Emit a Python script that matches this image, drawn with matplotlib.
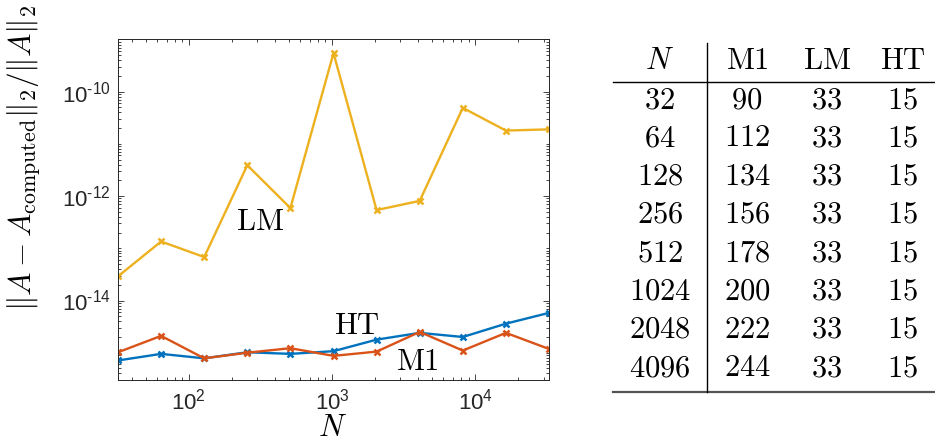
import matplotlib
matplotlib.use("Agg")
import matplotlib.pyplot as plt
import numpy as np
from matplotlib.ticker import LogLocator, FixedLocator, FuncFormatter, NullFormatter

# ---- data ----
N = [32, 64, 128, 256, 512, 1024, 2048, 4096, 8192, 16384, 32768]
err_HT = [7.1e-16, 9.5e-16, 7.8e-16, 1.02e-15, 9.5e-16, 1.07e-15,
          1.78e-15, 2.4e-15, 2.0e-15, 3.6e-15, 5.8e-15]
err_M1 = [1.02e-15, 2.1e-15, 7.8e-16, 1.0e-15, 1.22e-15, 8.7e-16,
          1.05e-15, 2.5e-15, 1.1e-15, 2.4e-15, 1.18e-15]
err_LM = [2.9e-14, 1.35e-13, 6.8e-14, 3.9e-12, 5.9e-13, 5.5e-10,
          5.4e-13, 8.1e-13, 4.9e-11, 1.8e-11, 1.9e-11]

x_ticks = [1e2, 1e3, 1e4]
y_ticks = [1e-14, 1e-12, 1e-10]

table_header = ["N", "M1", "LM", "HT"]
table_N = [32, 64, 128, 256, 512, 1024, 2048, 4096]
table_M1 = [90, 112, 134, 156, 178, 200, 222, 244]
table_LM = [33, 33, 33, 33, 33, 33, 33, 33]
table_HT = [15, 15, 15, 15, 15, 15, 15, 15]

BLUE, ORANGE, YELLOW = "#0072BD", "#D95319", "#EDB120"
AXC = "#262626"

plt.rcParams["mathtext.fontset"] = "custom"
plt.rcParams["mathtext.rm"] = "Liberation Sans"
plt.rcParams["mathtext.it"] = "Liberation Sans:italic"
plt.rcParams["font.family"] = "Liberation Sans"

W, H = 935, 444
fig = plt.figure(figsize=(W / 100, H / 100), dpi=100)
ax = fig.add_axes([118 / W, 1 - 380 / H, (549 - 118) / W, (380 - 39.5) / H])

style = dict(lw=1.7, marker="x", ms=4.5, mew=1.8)
ax.loglog(N, err_HT, color=BLUE, **style)
ax.loglog(N, err_M1, color=ORANGE, **style)
ax.loglog(N, err_LM, color=YELLOW, **style)

ax.set_xlim(32, 32768)
ax.set_ylim(3e-16, 1e-9)

ax.xaxis.set_major_locator(FixedLocator(x_ticks))
ax.xaxis.set_minor_locator(LogLocator(base=10, subs=np.arange(1, 10), numticks=100))
ax.yaxis.set_major_locator(FixedLocator(y_ticks))
ax.yaxis.set_minor_locator(LogLocator(base=10, subs=np.arange(1, 10), numticks=100))


def fmt(v, pos):
    e = int(round(np.log10(v)))
    if e < 0:
        return r"$10^{\text{-}%d}$" % (-e)
    return r"$10^{%d}$" % e


ax.xaxis.set_major_formatter(FuncFormatter(fmt))
ax.yaxis.set_major_formatter(FuncFormatter(fmt))
ax.xaxis.set_minor_formatter(NullFormatter())
ax.yaxis.set_minor_formatter(NullFormatter())

ax.tick_params(which="both", direction="in", top=True, right=True,
               color=AXC, labelcolor=AXC, width=0.6, labelsize=16)
ax.tick_params(which="major", length=4)
ax.tick_params(which="minor", length=2.2)
ax.tick_params(axis="x", pad=6)
ax.tick_params(axis="y", pad=5)
for s in ax.spines.values():
    s.set_color(AXC)
    s.set_linewidth(0.7)

lab = dict(fontsize=22, math_fontfamily="cm", ha="center", va="center")
ax.text(312, 3.2e-13, r"$\mathrm{LM}$", **lab)
ax.text(1500, 3.2e-15, r"$\mathrm{HT}$", **lab)
ax.text(3950, 6.6e-16, r"$\mathrm{M1}$", **lab)

fig.text(24 / W, 1 - 158 / H,
         r"$\|A - A_{\mathrm{computed}}\|_2/\|A\|_2$",
         rotation=90, fontsize=22.5, math_fontfamily="cm",
         ha="center", va="center")
fig.text(333 / W, 1 / H, r"$N$", fontsize=22, math_fontfamily="cm",
         ha="center", va="bottom")

# ---- table on the right, drawn in pixel coordinates ----
tax = fig.add_axes([0, 0, 1, 1])
tax.set_xlim(0, W)
tax.set_ylim(H, 0)
tax.axis("off")

col_x = [660, 747, 827, 903]
header_y = 61
row_y0, row_dy = 100, 38.3
tfont = dict(fontsize=22, math_fontfamily="cm", ha="center", va="center")

for cx, h in zip(col_x, table_header):
    txt = r"$N$" if h == "N" else r"$\mathrm{%s}$" % h
    tax.text(cx, header_y, txt, **tfont)

columns = [table_N, table_M1, table_LM, table_HT]
for i in range(len(table_N)):
    y = row_y0 + i * row_dy
    for cx, col in zip(col_x, columns):
        tax.text(cx, y, r"$\mathrm{%d}$" % col[i], **tfont)

tax.plot([613, 934], [82, 82], color="black", lw=1.0)
tax.plot([613, 934], [392, 392], color="#555555", lw=1.6)
tax.plot([707, 707], [43, 392], color="black", lw=1.0)

fig.savefig("out.png", dpi=100)
